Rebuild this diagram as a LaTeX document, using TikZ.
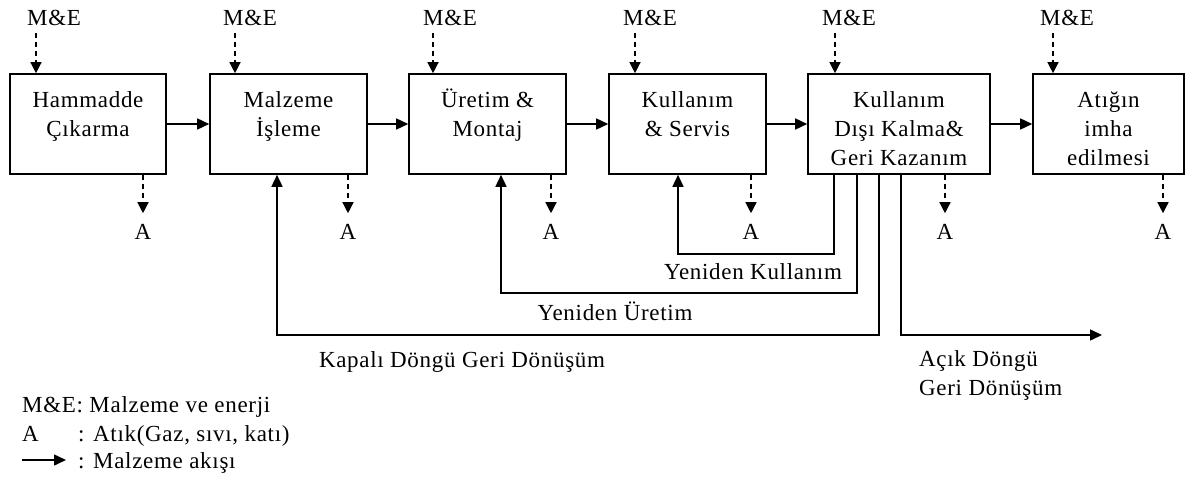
\documentclass[tikz,border=0pt]{standalone}
\usepackage{fontspec}
\setmainfont{Liberation Serif}[LetterSpace=3]
\usetikzlibrary{arrows.meta}
\newcommand\bxt[2]{\parbox[c][100pt][t]{#1}{\centering\rule{0pt}{34pt}#2}}
\begin{document}
\begin{tikzpicture}[x=1pt,y=-1pt,
  font=\fontsize{23}{29}\selectfont,
  box/.style={draw, line width=1.6pt, inner sep=0pt, minimum height=100pt},
  flow/.style={line width=1.5pt, -{Triangle[length=12pt,width=11pt]}},
  dflow/.style={line width=1.3pt, dash pattern=on 5pt off 4pt, -{Triangle[length=11pt,width=11pt]}},
  lbl/.style={inner sep=0pt}
]
\useasboundingbox (0,0) rectangle (1188,478);

% process boxes
\node[box, minimum width=156pt] (b1) at (88,124)    {\bxt{150pt}{Hammadde\\Çıkarma}};
\node[box, minimum width=157pt] (b2) at (288.5,124) {\bxt{150pt}{Malzeme\\İşleme}};
\node[box, minimum width=157pt] (b3) at (487.5,124) {\bxt{150pt}{Üretim \&\\Montaj}};
\node[box, minimum width=157pt] (b4) at (687.5,124) {\bxt{150pt}{Kullanım\\\& Servis}};
\node[box, minimum width=182pt] (b5) at (899,124)   {\bxt{176pt}{Kullanım\\Dışı Kalma\&\\Geri Kazanım}};
\node[box, minimum width=151pt] (b6) at (1108.5,124){\bxt{146pt}{Atığın\\imha\\edilmesi}};

% material flow
\draw[flow] (b1.east) -- (b2.west);
\draw[flow] (b2.east) -- (b3.west);
\draw[flow] (b3.east) -- (b4.west);
\draw[flow] (b4.east) -- (b5.west);
\draw[flow] (b5.east) -- (b6.west);

% M&E inputs
\node[lbl, anchor=base west] (m1) at (27,25.6)   {M\&E};
\node[lbl, anchor=base west] (m2) at (223,25.6)  {M\&E};
\node[lbl, anchor=base west] (m3) at (423,25.6)  {M\&E};
\node[lbl, anchor=base west] (m4) at (623,25.6)  {M\&E};
\node[lbl, anchor=base west] (m5) at (822,25.6)  {M\&E};
\node[lbl, anchor=base west] (m6) at (1040,25.6) {M\&E};
\coordinate (i1) at (36,0);
\coordinate (i2) at (235,0);
\coordinate (i3) at (433,0);
\coordinate (i4) at (635,0);
\coordinate (i5) at (835,0);
\coordinate (i6) at (1053,0);
\foreach \k in {1,...,6}{
  \draw[dflow, shorten <=7pt] (m\k.south -| i\k) -- (b\k.north -| i\k);
}

% A outputs
\node[lbl, anchor=base] (a1) at (143,239.6)  {A};
\node[lbl, anchor=base] (a2) at (348,239.6)  {A};
\node[lbl, anchor=base] (a3) at (551,239.6)  {A};
\node[lbl, anchor=base] (a4) at (751,239.6)  {A};
\node[lbl, anchor=base] (a5) at (945,239.6)  {A};
\node[lbl, anchor=base] (a6) at (1163,239.6) {A};
\foreach \k in {1,...,6}{
  \draw[dflow, shorten >=11pt] (b\k.south -| a\k) -- (a\k.north);
}

% return loops
\coordinate (k1) at (834,254);
\coordinate (k2) at (678,254);
\coordinate (u1) at (857,293);
\coordinate (u2) at (501,293);
\coordinate (c1) at (879,335);
\coordinate (c2) at (277,335);
\coordinate (o1) at (901,335);
\coordinate (o2) at (1102,335);
\draw[flow] (b5.south -| k1) -- (k1) -- (k2) -- (b4.south -| k2);
\draw[flow] (b5.south -| u1) -- (u1) -- (u2) -- (b3.south -| u2);
\draw[flow] (b5.south -| c1) -- (c1) -- (c2) -- (b2.south -| c2);
\draw[flow] (b5.south -| o1) -- (o1) -- (o2);

\node[lbl, anchor=base] (tk) at (753,279.6) {Yeniden Kullanım};
\node[lbl, anchor=base] (tu) at (615,320.6) {Yeniden Üretim};
\node[lbl, anchor=base] (tc) at (462,367.6) {Kapalı Döngü Geri Dönüşüm};
\node[lbl, anchor=north west, align=left] (to) at (919,350) {Açık Döngü\\Geri Dönüşüm};

% legend
\node[lbl, anchor=base west] (lg1) at (22,412.6) {M\&E: Malzeme ve enerji};
\node[lbl, anchor=base west] (lg2a) at (22,441.6) {A};
\node[lbl, anchor=base west] (lg2b) at (78,441.6) {: Atık(Gaz, sıvı, katı)};
\coordinate (lg3a) at (22,460);
\node[lbl, anchor=base west] (lg3b) at (78,468.6) {: Malzeme akışı};
\draw[flow, shorten >=12pt] (lg3a) -- (lg3a -| lg3b.west);
\end{tikzpicture}
\end{document}
